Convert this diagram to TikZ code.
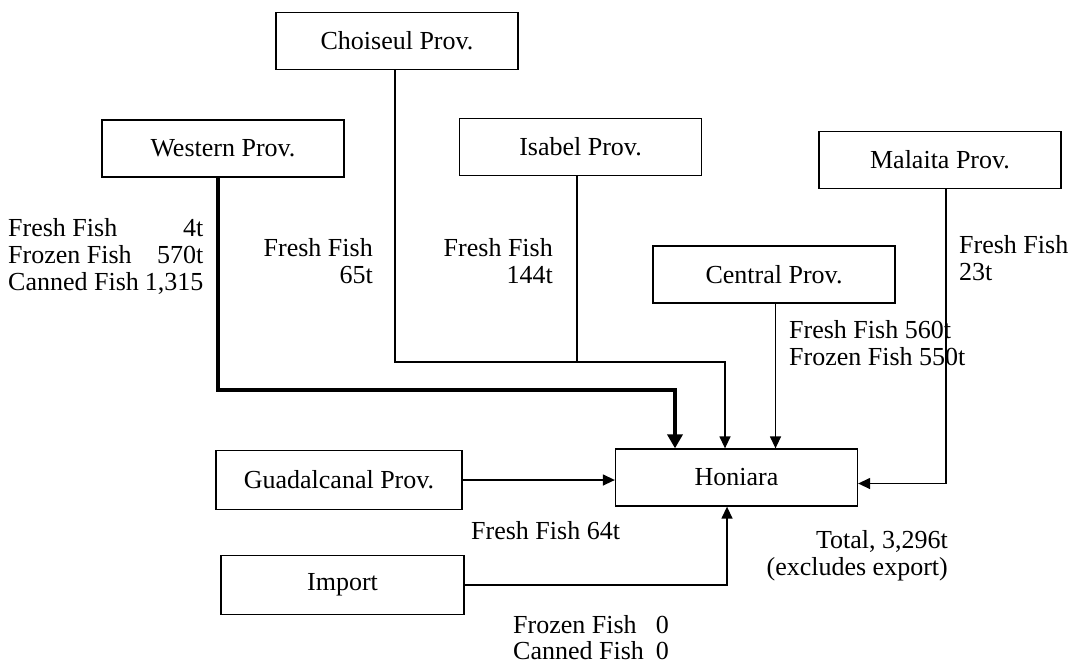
\documentclass[tikz,border=0pt]{standalone}
\usepackage{fontspec}
\setmainfont{Liberation Serif}
\usetikzlibrary{arrows.meta}
\newcommand\lblL[1]{\begin{tabular}[t]{@{}l@{}}#1\end{tabular}}
\newcommand\lblR[1]{\begin{tabular}[t]{@{}r@{}}#1\end{tabular}}
\begin{document}
\begin{tikzpicture}[x=1pt,y=-1pt,
  box/.style={draw,line width=1.3pt,inner sep=0pt,minimum height=57pt,minimum width=242pt,font=\fontsize{26}{27}\selectfont},
  lab/.style={inner sep=0pt,font=\fontsize{26}{27}\selectfont},
  flow/.style={line width=1.4pt,-{Triangle[length=12pt,width=11pt]}},
  flowthick/.style={line width=3.5pt,-{Triangle[length=14pt,width=15pt]}},
  link/.style={line width=1.4pt}]
\useasboundingbox (0,0) rectangle (1075,665);
\fill[white] (0,0) rectangle (1075,665);

\node[box] (choi) at (397,41) {Choiseul Prov.};
\node[box] (west) at (223,148.5) {Western Prov.};
\node[box] (isab) at (580.5,147) {Isabel Prov.};
\node[box] (mala) at (940,160) {Malaita Prov.};
\node[box] (cent) at (774,274.5) {Central Prov.};
\node[box] (hon) at (736.5,477.5) {Honiara};
\node[box,minimum height=59pt,minimum width=246pt] (guad) at (339,480) {Guadalcanal Prov.};
\node[box,minimum height=59pt,minimum width=243pt] (imp) at (342.5,585) {Import};

\coordinate (hw) at ([xshift=-61.5pt]hon.north);
\coordinate (hc) at ([xshift=-11.5pt]hon.north);
\coordinate (hm) at ([yshift=-6pt]hon.east);
\coordinate (hi) at ([xshift=-9.5pt]hon.south);
\coordinate (wbend) at (0,390);
\coordinate (cbend) at (0,362);
\coordinate (ws) at ([xshift=-5pt]west.south);
\coordinate (cs) at ([xshift=-2pt]choi.south);
\coordinate (is) at ([xshift=-3.5pt]isab.south);
\coordinate (ces) at ([xshift=1.5pt]cent.south);
\coordinate (ms) at ([xshift=6pt]mala.south);

\draw[flowthick] (ws) -- (ws |- wbend) -| (hw);
\draw[flow] (cs) -- (cs |- cbend) -| (hc);
\draw[link] (is) -- (is |- cbend);
\draw[flow] (ces) -- (ces |- hon.north);
\draw[flow] (ms) |- (hm);
\draw[flow] (guad.east) -- (guad.east -| hon.west);
\draw[flow] (imp.east) -| (hi);

\node[lab,anchor=base west] (lw) at (8,236) {\begin{tabular}[t]{@{}l@{\hspace{6pt}}r@{}}Fresh Fish & 4t\hspace{10pt}\\Frozen Fish & 570t\hspace{9pt}\\Canned Fish & 1,315\end{tabular}};
\node[lab,anchor=base east] (lc) at (373,256) {\lblR{Fresh Fish\\65t}};
\node[lab,anchor=base east] (li) at (553,256) {\lblR{Fresh Fish\\144t}};
\node[lab,anchor=base west] (lm) at (959,253) {\lblL{Fresh Fish\\23t}};
\node[lab,anchor=base west] (lce) at (789,338) {\lblL{Fresh Fish 560t\\Frozen Fish 550t}};
\node[lab,anchor=base west] (lg) at (471,539) {Fresh Fish 64t};
\node[lab,anchor=base east] (lt) at (948,548) {\lblR{Total, 3,296t\\(excludes export)}};
\node[lab,anchor=base west] (limp) at (513,633) {\begin{tabular}[t]{@{}l@{\hspace{12pt}}r@{}}Frozen Fish & 0\\[-1pt]Canned Fish & 0\end{tabular}};
\end{tikzpicture}
\end{document}
